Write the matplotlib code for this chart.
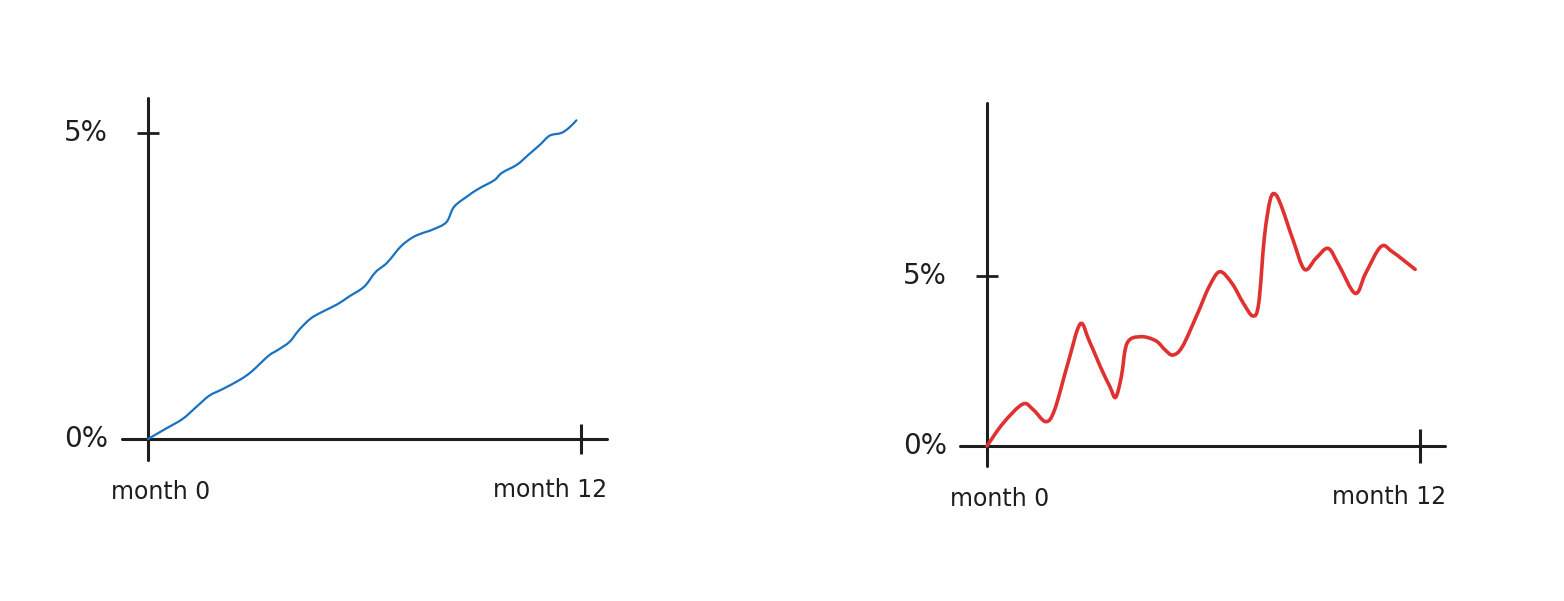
import matplotlib
matplotlib.use("Agg")
import matplotlib.pyplot as plt
from matplotlib.path import Path
from matplotlib.patches import PathPatch

# ---- data ----
months_a = [0, 0.477, 0.954, 1.325, 1.696, 2.067, 2.544, 2.862, 3.339, 3.604, 3.922, 4.187,
            4.505, 4.823, 5.247, 5.566, 5.990, 6.308, 6.626, 6.997, 7.315, 7.580, 7.898,
            8.269, 8.481, 8.852, 9.170, 9.594, 9.806, 10.230, 10.548, 10.866, 11.131,
            11.449, 11.661, 11.873]
growth_a = [0, 0.163, 0.326, 0.516, 0.707, 0.815, 0.967, 1.098, 1.359, 1.457, 1.587, 1.783,
            1.967, 2.076, 2.201, 2.326, 2.489, 2.728, 2.880, 3.141, 3.288, 3.359, 3.424,
            3.543, 3.793, 3.967, 4.092, 4.228, 4.348, 4.484, 4.647, 4.810, 4.957,
            5.000, 5.082, 5.207]

months_b = [0, 0.444, 0.994, 1.290, 1.628, 1.871, 2.241, 2.580, 2.823, 3.140, 3.405, 3.563,
            3.722, 3.880, 4.250, 4.673, 4.938, 5.149, 5.413, 5.836, 6.154, 6.450, 6.788,
            7.105, 7.369, 7.528, 7.687, 7.845, 7.983, 8.162, 8.480, 8.797, 9.114, 9.452,
            9.748, 10.203, 10.489, 10.912, 11.229, 11.863]
growth_b = [0, 0.667, 1.235, 1.059, 0.716, 1.059, 2.431, 3.588, 3.118, 2.333, 1.745, 1.431,
            2.039, 3.020, 3.216, 3.098, 2.824, 2.676, 2.922, 3.902, 4.686, 5.127, 4.784,
            4.196, 3.824, 4.196, 6.157, 7.235, 7.412, 7.039, 6.059, 5.196, 5.520, 5.814,
            5.324, 4.490, 5.078, 5.863, 5.716, 5.196]

x_tick_labels = ["month 0", "month 12"]
y_tick_labels = ["0%", "5%"]

INK = "#1e1e1e"
W, H = 1564, 601
fig = plt.figure(figsize=(W / 100, H / 100), dpi=100)
fig.patch.set_facecolor("white")


def px_box(x0, x1, ytop, ybot):
    return [x0 / W, (H - ybot) / H, (x1 - x0) / W, (ybot - ytop) / H]


def smooth_path(xs, ys):
    """Catmull-Rom curve through the given points, as cubic Bezier segments."""
    pts = list(zip(xs, ys))
    n = len(pts)
    verts = [pts[0]]
    codes = [Path.MOVETO]
    for i in range(n - 1):
        p0 = pts[i - 1] if i > 0 else pts[i]
        p1 = pts[i]
        p2 = pts[i + 1]
        p3 = pts[i + 2] if i + 2 < n else pts[i + 1]
        c1 = (p1[0] + (p2[0] - p0[0]) / 6, p1[1] + (p2[1] - p0[1]) / 6)
        c2 = (p2[0] - (p3[0] - p1[0]) / 6, p2[1] - (p3[1] - p1[1]) / 6)
        verts += [c1, c2, p2]
        codes += [Path.CURVE4] * 3
    return Path(verts, codes)


panels = [
    dict(box=px_box(122, 607, 98, 460), xlim=(-0.72, 12.72), ylim=(-0.343, 5.572),
         x=months_a, y=growth_a, color="#1971c2", lw=1.6, xtick_len=21.6),
    dict(box=px_box(960, 1445, 103, 466), xlim=(-0.748, 12.69), ylim=(-0.588, 10.09),
         x=months_b, y=growth_b, color="#e03131", lw=2.6, xtick_len=24),
]

for p in panels:
    ax = fig.add_axes(p["box"])
    ax.set_xlim(*p["xlim"])
    ax.set_ylim(*p["ylim"])
    ax.patch.set_alpha(0)
    for s in ("top", "right"):
        ax.spines[s].set_visible(False)
    for s in ("left", "bottom"):
        ax.spines[s].set_position(("data", 0))
        ax.spines[s].set_color(INK)
        ax.spines[s].set_linewidth(2.2)
        ax.spines[s].set_capstyle("round")
    ax.set_xticks([12])
    ax.set_yticks([5])
    ax.tick_params(axis="x", direction="inout", length=p["xtick_len"], width=2.2,
                   color=INK, labelbottom=False)
    ax.tick_params(axis="y", direction="inout", length=16, width=2.0,
                   color=INK, labelleft=False)
    ax.add_patch(PathPatch(smooth_path(p["x"], p["y"]), fill=False, edgecolor=p["color"],
                           lw=p["lw"], joinstyle="round", capstyle="round",
                           clip_on=False, zorder=3))

    ax.annotate(x_tick_labels[0], xy=(0, 0), xycoords="data",
                xytext=(-37, -53), textcoords="offset pixels",
                ha="left", va="center", fontsize=17, color=INK)
    ax.annotate(x_tick_labels[1], xy=(12, 0), xycoords="data",
                xytext=(26, -51), textcoords="offset pixels",
                ha="right", va="center", fontsize=17, color=INK)
    ax.annotate(y_tick_labels[0], xy=(0, 0), xycoords="data",
                xytext=(-40, 0), textcoords="offset pixels",
                ha="right", va="center", fontsize=20, color=INK)
    ax.annotate(y_tick_labels[1], xy=(0, 5), xycoords="data",
                xytext=(-40, 0), textcoords="offset pixels",
                ha="right", va="center", fontsize=20, color=INK)

fig.savefig("out.png", dpi=100, facecolor="white")
